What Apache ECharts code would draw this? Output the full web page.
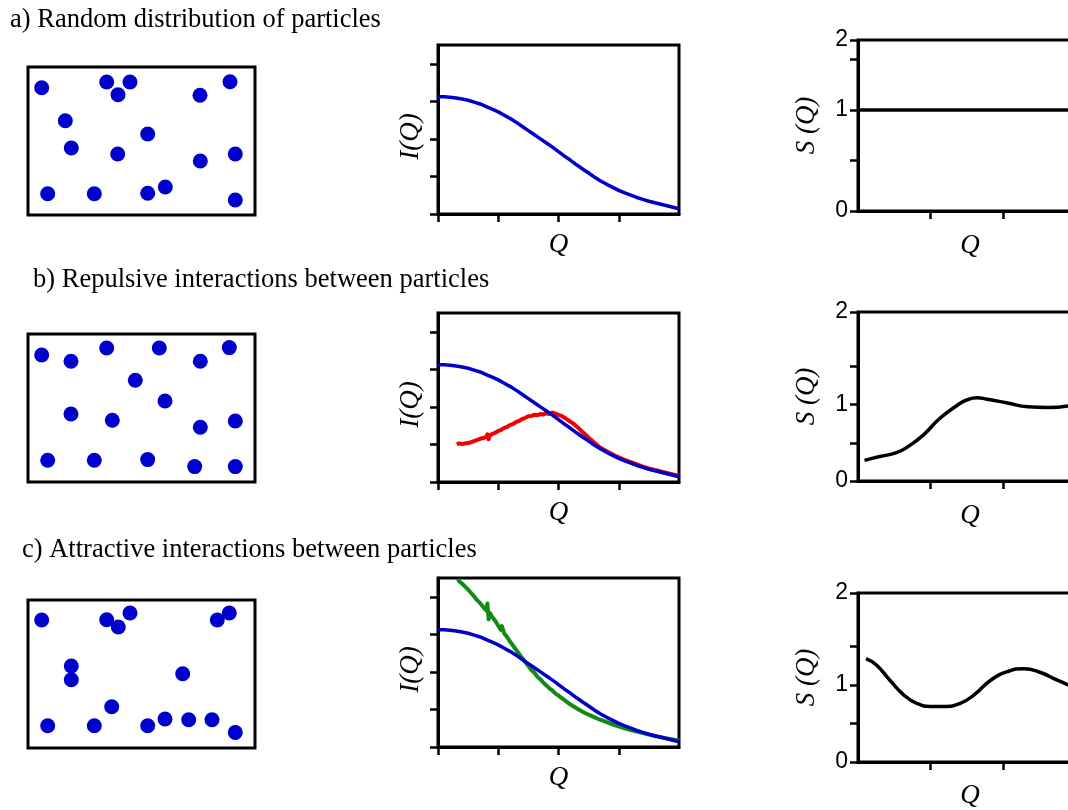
<!DOCTYPE html>
<html><head><meta charset="utf-8">
<script src="https://cdn.jsdelivr.net/npm/echarts@6/dist/echarts.min.js"></script>
<style>html,body{margin:0;padding:0;background:#fff}#c{width:1068px;height:810px}</style>
</head><body><div id="c"></div>
<script>
// ---------------- DATA ----------------
const rowTitles = ['a) Random distribution of particles',
                   'b) Repulsive interactions between particles',
                   'c) Attractive interactions between particles'];

// particle centres in box units (x from left edge 0-227, y from bottom edge 0-148)
const particlesRandom = [[13.7,127.3],[78.7,133],[102,133],[90,120.3],[172,119.7],[202,133.3],[37.3,94.3],[119.7,81],[43.3,67],[89.7,61],[172.3,54],[207.3,61],[19.7,21.3],[66.3,21.3],[119.7,21.7],[137.3,28],[207.3,15]];
const particlesRepulsive = [[13.7,127],[43,120.7],[78.7,134],[131.3,134],[172.3,120.7],[201.3,134.4],[107.3,101.7],[137,81],[43,68],[84.3,61.7],[172.3,54.7],[207.3,61],[19.7,21.7],[66.3,21.7],[119.7,22.4],[166.7,15.4],[207.3,15.4]];
const particlesAttractive = [[13.7,128],[78.7,128.3],[90.3,121],[102,135],[189.3,128],[201.3,135],[43.3,82],[43.3,68.3],[154.7,74.3],[83.7,41.3],[19.7,22.3],[66.3,22.3],[119.7,22.3],[137,29],[160.7,28.3],[184,28.3],[207.3,15.6]];

// I(Q): form factor (blue), same in every row
const qForm = [0,0.1,0.2,0.3,0.4,0.5,0.6,0.7,0.8,0.9,1.0,1.1,1.2,1.3,1.4,1.5,1.6,1.7,1.8,1.9,2.0,2.1,2.2,2.3,2.4,2.5,2.6,2.7,2.8,2.9,3.0,3.1,3.2,3.3,3.4,3.5,3.6,3.7,3.8,3.9,4.0];
const iForm = [3.12,3.12,3.11,3.09,3.06,3.03,2.98,2.93,2.86,2.79,2.72,2.63,2.54,2.44,2.33,2.22,2.11,2.00,1.89,1.78,1.66,1.54,1.43,1.31,1.20,1.09,0.98,0.88,0.79,0.71,0.63,0.56,0.50,0.44,0.39,0.34,0.30,0.26,0.22,0.18,0.14];

// I(Q) measured with repulsive interactions (red) [Q, I]
const iRepulsive = [[0.31,1.01],[0.35,1.03],[0.4,1.01],[0.45,1.03],[0.5,1.04],[0.55,1.06],[0.6,1.09],[0.65,1.12],[0.7,1.15],[0.75,1.17],[0.8,1.20],[0.82,1.27],[0.84,1.14],[0.86,1.24],[0.9,1.28],[0.95,1.31],[1.0,1.36],[1.05,1.39],[1.1,1.44],[1.15,1.47],[1.2,1.52],[1.25,1.55],[1.3,1.60],[1.35,1.63],[1.4,1.68],[1.45,1.71],[1.5,1.75],[1.55,1.76],[1.6,1.79],[1.65,1.78],[1.7,1.81],[1.75,1.80],[1.8,1.83],[1.85,1.81],[1.9,1.85],[1.95,1.82],[2.0,1.79],[2.05,1.76],[2.1,1.71],[2.15,1.66],[2.2,1.60],[2.25,1.55],[2.3,1.48],[2.35,1.41],[2.4,1.33],[2.45,1.26],[2.5,1.18],[2.55,1.11],[2.6,1.04],[2.65,0.97],[2.7,0.91],[2.8,0.82],[2.9,0.73],[3.0,0.66],[3.1,0.59],[3.2,0.53],[3.3,0.47],[3.4,0.41],[3.5,0.36],[3.6,0.32],[3.7,0.28],[3.8,0.24],[3.9,0.20],[4.0,0.16]];

// I(Q) measured with attractive interactions (green) [Q, I]
const iAttractive = [[0.33,4.47],[0.36,4.40],[0.4,4.35],[0.45,4.27],[0.5,4.19],[0.55,4.10],[0.6,4.01],[0.65,3.91],[0.7,3.83],[0.75,3.73],[0.8,3.64],[0.82,3.82],[0.84,3.40],[0.86,3.57],[0.9,3.46],[0.95,3.36],[1.0,3.23],[1.04,3.12],[1.06,3.22],[1.1,3.02],[1.15,2.92],[1.2,2.80],[1.25,2.69],[1.3,2.58],[1.35,2.47],[1.4,2.36],[1.45,2.26],[1.5,2.16],[1.55,2.05],[1.6,1.98],[1.65,1.87],[1.7,1.80],[1.75,1.71],[1.8,1.64],[1.85,1.56],[1.9,1.50],[1.95,1.42],[2.0,1.37],[2.1,1.25],[2.2,1.13],[2.3,1.03],[2.4,0.94],[2.5,0.86],[2.6,0.79],[2.7,0.72],[2.8,0.66],[2.9,0.60],[3.0,0.55],[3.1,0.50],[3.2,0.45],[3.3,0.41],[3.4,0.37],[3.5,0.33],[3.6,0.29],[3.7,0.26],[3.8,0.23],[3.9,0.20],[4.0,0.17]];

// S(Q) curves [Q, S]
const sRandom = [[0,1],[4,1]];
const sRepulsive = [[0.09,0.27],[0.3,0.32],[0.53,0.37],[0.69,0.45],[0.9,0.60],[1.13,0.82],[1.37,0.99],[1.5,1.06],[1.64,1.09],[1.78,1.07],[2.06,1.02],[2.34,0.97],[2.62,0.96],[2.95,0.99]];
const sAttractive = [[0.11,1.34],[0.25,1.26],[0.44,1.06],[0.63,0.87],[0.81,0.76],[1.0,0.72],[1.18,0.72],[1.41,0.76],[1.6,0.87],[1.83,1.06],[2.06,1.17],[2.29,1.21],[2.52,1.16],[2.75,1.06],[2.95,0.98]];

// axis ticks / labels
const iqXTicks = [0,1,2,3];
const iqYTicks = [0,1,2,3,4];
const sqXTicks = [1,2,3];
const sqTickLabels = ['0','1','2'];
const sqTop = [1.695, 2.21, 2.19];   // value at the top edge of each S(Q) frame (labelled "2")

// ---------------- LAYOUT / STYLE ----------------
const SERIF = '"Liberation Serif","Times New Roman",serif';
const SANS = '"Liberation Sans",Arial,sans-serif';
const BLUE = '#0000c8', RED = '#f00000', GREEN = '#138a13';
const boxTop = [67,334,600];
const iqTop = [45,313,578];
const sqGridTop = [40,312,593], sqGridH = [171,169,169];
const titlePos = [[10,22],[33,282],[22,552]];
const sqQLabelY = [246,516,796];

const particles = [particlesRandom, particlesRepulsive, particlesAttractive];
const measured = [null, {d:iRepulsive,c:RED}, {d:iAttractive,c:GREEN}];
const sCurves = [sRandom, sRepulsive, sAttractive];

const grid = [], xAxis = [], yAxis = [], series = [], graphic = [];
const black = '#000';
const nameStyle = {fontFamily:SERIF, fontStyle:'italic', fontSize:27, color:black};

for (let r = 0; r < 3; r++) {
  const gb = r*3, gi = r*3+1, gs = r*3+2;
  // particle box
  grid.push({left:28, top:boxTop[r], width:227, height:148, show:true, borderColor:black, borderWidth:3, outerBoundsMode:'none'});
  xAxis.push({gridIndex:gb, type:'value', min:0, max:227, show:false});
  yAxis.push({gridIndex:gb, type:'value', min:0, max:148, show:false});
  series.push({type:'scatter', xAxisIndex:gb, yAxisIndex:gb, data:particles[r], symbolSize:15,
    itemStyle:{color:'#0000cc', opacity:1}, silent:true});

  // I(Q)
  grid.push({left:438, top:iqTop[r], width:241, height:169, show:true, borderColor:black, borderWidth:3, outerBoundsMode:'none'});
  xAxis.push({gridIndex:gi, type:'value', min:0, max:4,
    axisLine:{show:true, lineStyle:{color:black, width:3}},
    axisTick:{show:true, customValues:iqXTicks, length:8, lineStyle:{color:black, width:2.5}},
    axisLabel:{show:false}, splitLine:{show:false},
    name:'Q', nameLocation:'middle', nameGap:17, nameTextStyle:Object.assign({verticalAlign:'top'}, nameStyle)});
  yAxis.push({gridIndex:gi, type:'value', min:0, max:4.5,
    axisLine:{show:true, lineStyle:{color:black, width:3}},
    axisTick:{show:true, customValues:iqYTicks, length:8, lineStyle:{color:black, width:2.5}},
    axisLabel:{show:false}, splitLine:{show:false},
    name:'I(Q)', nameLocation:'middle', nameRotate:90, nameGap:14,
    nameTextStyle:Object.assign({padding:[0,14,0,0]}, nameStyle)});
  series.push({type:'line', xAxisIndex:gi, yAxisIndex:gi, data:qForm.map((q,i)=>[q,iForm[i]]),
    smooth:false, showSymbol:false, lineStyle:{color:BLUE, width:3.5, join:'round'}, z:3, silent:true});
  if (measured[r]) {
    series.push({type:'line', xAxisIndex:gi, yAxisIndex:gi, data:measured[r].d,
      showSymbol:false, lineStyle:{color:measured[r].c, width:4, join:'round'}, z:2, silent:true});
  }

  // S(Q)
  const top = sqTop[r];
  const labVals = [0,1,top];
  grid.push({left:858, top:sqGridTop[r], width:290, height:sqGridH[r], show:true, borderColor:black, borderWidth:3, outerBoundsMode:'none'});
  xAxis.push({gridIndex:gs, type:'value', min:0, max:4,
    axisLine:{show:true, lineStyle:{color:black, width:3}},
    axisTick:{show:true, customValues:sqXTicks, length:8, lineStyle:{color:black, width:2.5}},
    axisLabel:{show:false}, splitLine:{show:false}});
  yAxis.push({gridIndex:gs, type:'value', min:0, max:top,
    axisLine:{show:true, lineStyle:{color:black, width:3}},
    axisTick:{show:true, customValues:[0,0.5,1,1.5,top], length:8, lineStyle:{color:black, width:2.5}},
    axisLabel:{show:true, customValues:labVals, margin:10, fontFamily:SANS, fontSize:23, color:black,
      formatter:(v)=>{ const k = labVals.findIndex(x=>Math.abs(x-v)<1e-6); return k>=0 ? sqTickLabels[k] : ''; }},
    splitLine:{show:false},
    name:'S (Q)', nameLocation:'middle', nameRotate:90, nameGap:38, nameTextStyle:nameStyle});
  series.push({type:'line', xAxisIndex:gs, yAxisIndex:gs, data:sCurves[r], smooth:0.5,
    showSymbol:false, lineStyle:{color:black, width:3.5}, silent:true});

  graphic.push({type:'text', left:titlePos[r][0], top:titlePos[r][1]-15,
    style:{text:rowTitles[r], font:'26.5px '+SERIF, fill:black}});
  graphic.push({type:'text', x:970, y:sqQLabelY[r],
    style:{text:'Q', font:'italic 27px '+SERIF, fill:black, align:'center', verticalAlign:'middle'}});
}

const chart = echarts.init(document.getElementById('c'));
chart.setOption({animation:false, backgroundColor:'#fff', grid, xAxis, yAxis, series, graphic});
</script>
</body></html>
